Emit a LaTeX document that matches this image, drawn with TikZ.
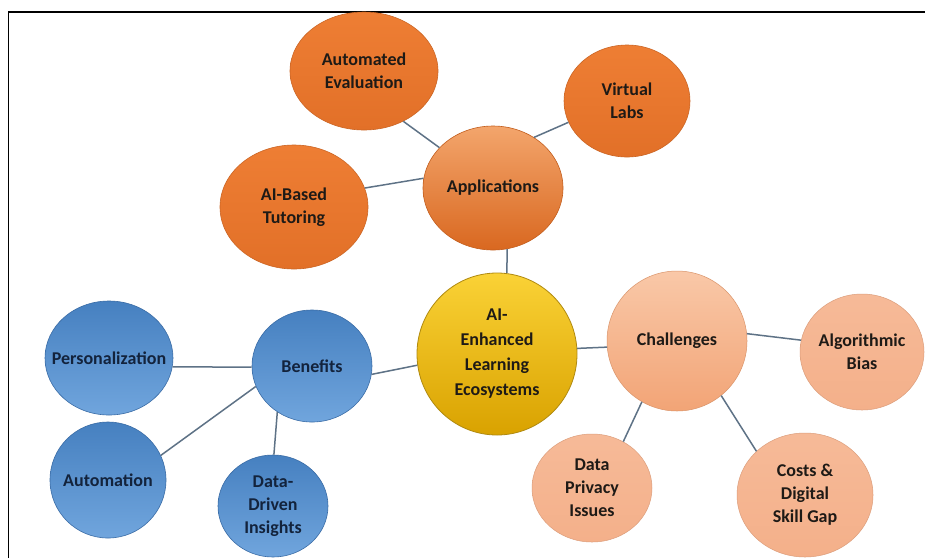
\documentclass[tikz,border=0pt]{standalone}
\usepackage{fontspec}
\setmainfont{Carlito}
\usetikzlibrary{shapes.geometric}

\definecolor{orflat}{HTML}{EE7E34}
\definecolor{orflatdk}{HTML}{E27028}
\definecolor{apptop}{HTML}{F3A56C}
\definecolor{appbot}{HTML}{D96820}
\definecolor{goldtop}{HTML}{FAD236}
\definecolor{goldbot}{HTML}{D9A200}
\definecolor{goldedge}{HTML}{B08A10}
\definecolor{saltop}{HTML}{F9C8A8}
\definecolor{salbot}{HTML}{F2A476}
\definecolor{salkid}{HTML}{F4B08A}
\definecolor{salkidtop}{HTML}{F6BA98}
\definecolor{bluetop}{HTML}{4680C0}
\definecolor{bluebot}{HTML}{70A5DD}
\definecolor{blueedge}{HTML}{3A6CA6}
\definecolor{linkcol}{HTML}{5E7286}
\definecolor{inkdark}{HTML}{1E1A16}
\definecolor{inkblue}{HTML}{13233C}

\tikzset{
  bubble/.style={ellipse, inner sep=-30pt, align=center,
    font=\fontsize{18}{23}\selectfont\bfseries, text=inkdark},
  orangeleaf/.style={bubble, top color=orflat, bottom color=orflatdk, draw=orflatdk!90!black, line width=0.6pt},
  orangehub/.style={bubble, top color=apptop, bottom color=appbot, draw=appbot!90!black, line width=0.6pt},
  goldhub/.style={bubble, top color=goldtop, bottom color=goldbot, draw=goldedge, line width=0.8pt,
    font=\fontsize{18}{25}\selectfont\bfseries},
  salmonhub/.style={bubble, top color=saltop, bottom color=salbot, draw=salbot!90!black, line width=0.5pt},
  salmonleaf/.style={bubble, top color=salkidtop, bottom color=salkid, draw=salkid!90!black, line width=0.5pt},
  bluenode/.style={bubble, top color=bluetop, bottom color=bluebot, draw=blueedge, line width=0.6pt, text=inkblue},
  link/.style={draw=linkcol, line width=1.5pt},
  frame/.style={draw=black, line width=1.6pt}
}

\begin{document}
\begin{tikzpicture}[x=1pt, y=-1pt]
\useasboundingbox (0,0) rectangle (925,558);
\fill[white] (0,0) rectangle (925,558);

% frame lines along the top and left
\draw[frame] (8.5,558) -- (8.5,12) -- (925,12);

% central topic
\node[goldhub, minimum width=160pt, minimum height=162pt] (core) at (497,354) {AI-\\Enhanced\\Learning\\Ecosystems};

% applications branch
\node[orangehub, minimum width=140pt, minimum height=124pt] (apps) at (493,188) {Applications};
\node[orangeleaf, minimum width=148pt, minimum height=118pt] (autoeval) at (364,71) {Automated\\Evaluation};
\node[orangeleaf, minimum width=126pt, minimum height=112pt] (vlabs) at (627,101) {Virtual\\Labs};
\node[orangeleaf, minimum width=148pt, minimum height=124pt] (tutor) at (294,207) {AI-Based\\Tutoring};

% benefits branch
\node[bluenode, minimum width=120pt, minimum height=112pt] (benefits) at (312,366) {Benefits};
\node[bluenode, minimum width=128pt, minimum height=114pt] (personal) at (109,358) {Personalization};
\node[bluenode, minimum width=116pt, minimum height=116pt] (automation) at (108,480) {Automation};
\node[bluenode, minimum width=110pt, minimum height=102pt] (insights) at (273,506) {Data-\\Driven\\Insights};

% challenges branch
\node[salmonhub, minimum width=140pt, minimum height=140pt] (challenges) at (677,341) {Challenges};
\node[salmonleaf, minimum width=124pt, minimum height=116pt] (bias) at (862,352) {Algorithmic\\Bias};
\node[salmonleaf, minimum width=120pt, minimum height=108pt] (privacy) at (592,488) {Data\\Privacy\\Issues};
\node[salmonleaf, minimum width=136pt, minimum height=124pt] (costs) at (805,495) {Costs \&\\Digital\\Skill Gap};

% connectors
\draw[link] (autoeval.-52) -- (apps.143);
\draw[link] (vlabs.200) -- (apps.51);
\draw[link] (tutor.15) -- (apps.172);
\draw[link] (apps.-77) -- (core.83);
\draw[link] (benefits.-8.5) -- (core.188.5);
\draw[link] (personal.-8) -- (benefits.181);
\draw[link] (automation.25) -- (benefits.200);
\draw[link] (benefits.233) -- (insights.89);
\draw[link] (core.4) -- (challenges.185);
\draw[link] (challenges.6) -- (bias.169);
\draw[link] (challenges.240) -- (privacy.56);
\draw[link] (challenges.-51) -- (costs.138);
\end{tikzpicture}
\end{document}
